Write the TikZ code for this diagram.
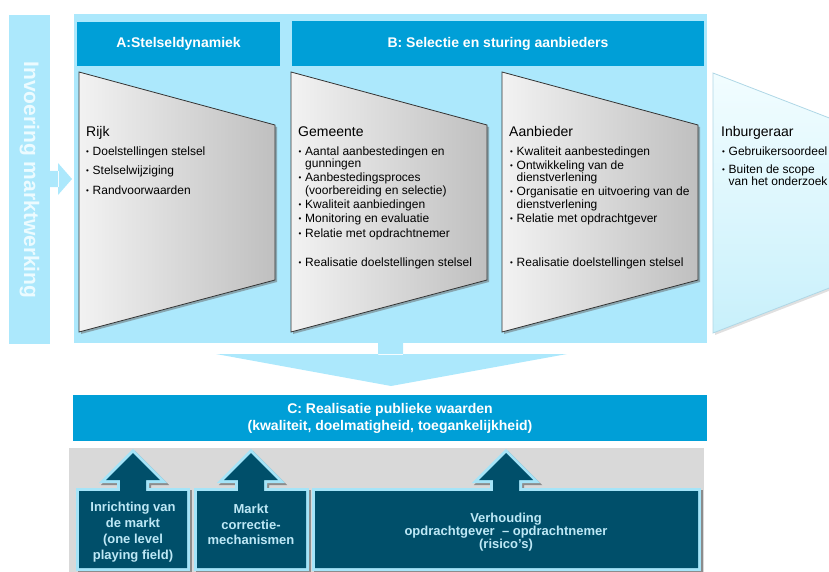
\documentclass[tikz,border=0pt]{standalone}
\usepackage{fontspec}
\setmainfont{Liberation Sans}
\usepackage{xcolor}

\definecolor{panelblue}{RGB}{172,232,252}
\definecolor{headblue}{RGB}{0,159,215}
\definecolor{tiledark}{RGB}{0,79,106}
\definecolor{tileline}{RGB}{165,228,248}
\definecolor{tiletext}{RGB}{190,232,246}
\definecolor{basegray}{RGB}{217,217,217}
\definecolor{sidetext}{RGB}{236,251,255}

\newcommand{\bul}{\makebox[6.5pt][l]{\raisebox{.6pt}{\fontsize{8}{8}\selectfont\textbullet}}}
\newcommand{\ind}{\hspace*{6.5pt}}

\begin{document}
\begin{tikzpicture}[x=1pt,y=-1pt]
  \tikzset{header/.style={text=white,font=\fontsize{14}{17}\selectfont\bfseries,align=center}}
  \tikzset{title/.style={anchor=base west,inner sep=0pt,font=\fontsize{14}{16}\selectfont}}
  \tikzset{bullets/.style={anchor=north west,inner sep=0pt,align=left,font=\fontsize{12}{12.5}\selectfont}}
  \tikzset{tiletxt/.style={text=tiletext,align=center}}
  \tikzset{slab/.style={left color=black!5,right color=black!25,draw=black!80,line width=.8pt}}
  \tikzset{tileborder/.style={draw=tileline,line width=6pt}}
  \clip (0,0) rectangle (829,572);
  % side bar and main panel
  \fill[panelblue] (9,15) rectangle (50,344);
  \node[rotate=-90,text=sidetext,font=\fontsize{21}{21}\selectfont\bfseries] (invoering) at (29.5,180) {Invoering marktwerking};
  \fill[panelblue] (50,171) rectangle (59,187) (58,163) -- (72,179) -- (58,195) -- cycle;
  \fill[panelblue] (74,14) rectangle (707,343);
  \fill[headblue] (77,22) rectangle (280,66);
  \fill[headblue] (292,21) rectangle (704,66);
  \node[header] (stelsel) at (178.5,44) {A:Stelseldynamiek};
  \node[header] (selectie) at (498,43.5) {B: Selectie en sturing aanbieders};
  % trapezia
  \foreach \x in {79,291,502} {
    \fill[black!60,opacity=.5] (\x+2,74) -- (\x+198,127) -- (\x+198,282) -- (\x+2,334) -- cycle;
    \shade[slab] (\x,72) -- (\x+196,125) -- (\x+196,280) -- (\x,332) -- cycle;
  }
  \fill[black!40,opacity=.3] (715,75) -- (852,128) -- (852,282) -- (715,335) -- cycle;
  \shade[top color={rgb,255:red,242;green,253;blue,255},bottom color={rgb,255:red,200;green,240;blue,251},draw={rgb,255:red,175;green,215;blue,230},line width=.8pt]
    (713,73) -- (850,126) -- (850,280) -- (713,333) -- cycle;
  \node[title] (rijk) at (86,137) {Rijk};
  \node[bullets] (rijklist) at (86,146.2) {\bul Doelstellingen stelsel\\[7pt]\bul Stelselwijziging\\[7pt]\bul Randvoorwaarden};
  \node[title] (gemeente) at (298,137) {Gemeente};
  \node[bullets] (gemeentelist) at (298.5,146.2) {\bul Aantal aanbestedingen en\\\ind gunningen\\[1.5pt]\bul Aanbestedingsproces\\\ind (voorbereiding en selectie)\\[1.5pt]\bul Kwaliteit aanbiedingen\\[2pt]\bul Monitoring en evaluatie\\[2pt]\bul Relatie met opdrachtnemer\\[16.5pt]\bul Realisatie doelstellingen stelsel};
  \node[title] (aanbieder) at (509,137) {Aanbieder};
  \node[bullets] (aanbiederlist) at (510,146.2) {\bul Kwaliteit aanbestedingen\\[1.5pt]\bul Ontwikkeling van de\\\ind dienstverlening\\[1.5pt]\bul Organisatie en uitvoering van de\\\ind dienstverlening\\[1.5pt]\bul Relatie met opdrachtgever\\[31.5pt]\bul Realisatie doelstellingen stelsel};
  \node[title] (inburgeraar) at (721,137) {Inburgeraar};
  \node[bullets] (inburgeraarlist) at (722,146.2) {\bul Gebruikersoordeel\\[5.5pt]\bul Buiten de scope\\\ind van het onderzoek};
  % down arrow and C
  \fill[panelblue] (378,342) rectangle (403,355) (216,354) -- (567,354) -- (391,386) -- cycle;
  \fill[headblue] (73,395) rectangle (707,441);
  \node[header] (publiek) at (390,418.5) {C: Realisatie publieke waarden\\(kwaliteit, doelmatigheid, toegankelijkheid)};
  % bottom tiles
  \fill[basegray] (69,448) rectangle (704,575);
  \foreach \s/\d in {black!45/2,tileline/0} {
    \draw[tileborder,draw=\s,shift={(\d,\d)}] (79,491) rectangle (187,568) (197,491) rectangle (306,568) (315,491) rectangle (698,568);
    \foreach \c in {133,251,506}
      \draw[tileborder,draw=\s,shift={(\d,\d)}] (\c,453) -- (\c+27,480) -- (\c+13,480) -- (\c+13,492) -- (\c-13,492) -- (\c-13,480) -- (\c-27,480) -- cycle;
  }
  \fill[tiledark] (79,491) rectangle (187,568) (197,491) rectangle (306,568) (315,491) rectangle (698,568);
  \foreach \c in {133,251,506}
    \fill[tiledark] (\c,453) -- (\c+27,480) -- (\c+13,480) -- (\c+13,492) -- (\c-13,492) -- (\c-13,480) -- (\c-27,480) -- cycle;
  \node[tiletxt,font=\fontsize{13}{16}\selectfont\bfseries] (inrichting) at (133,532.5) {Inrichting van\\de markt\\(one level\\playing field)};
  \node[tiletxt,font=\fontsize{13}{15.5}\selectfont\bfseries] (correctie) at (251,524.5) {Markt\\correctie-\\mechanismen};
  \node[tiletxt,font=\fontsize{13}{13}\selectfont\bfseries] (verhouding) at (506,532) {Verhouding\\opdrachtgever~~– opdrachtnemer\\(risico’s)};
\end{tikzpicture}
\end{document}
